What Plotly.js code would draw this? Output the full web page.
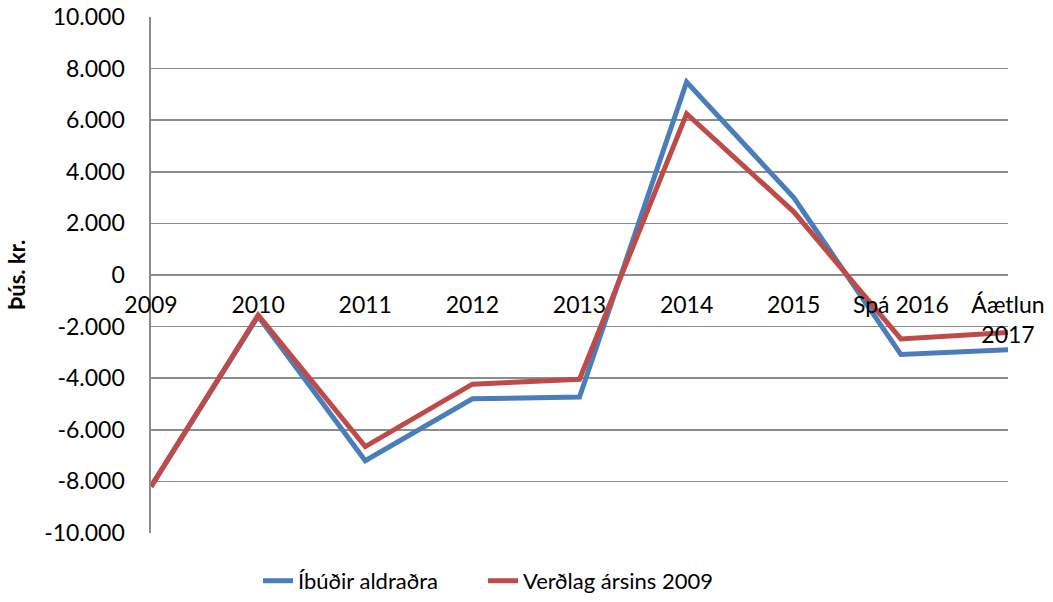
<!DOCTYPE html>
<html>
<head>
<meta charset="utf-8">
<script src="https://cdn.plot.ly/plotly-3.0.1.min.js"></script>
<style>html,body{margin:0;padding:0;background:#fff;}#chart{width:1053px;height:602px;}</style>
</head>
<body>
<div id="chart"></div>
<script>
const categories = ["2009", "2010", "2011", "2012", "2013", "2014", "2015", "Spá 2016", "Áætlun<br>2017"];
const ibudirAldradra = [-8200, -1600, -7200, -4800, -4730, 7480, 3000, -3080, -2900];
const verdlag2009 = [-8200, -1550, -6650, -4230, -4040, 6250, 2450, -2480, -2230];
const yTickVals = [-10000, -8000, -6000, -4000, -2000, 0, 2000, 4000, 6000, 8000, 10000];
const yTickText = ["-10.000", "-8.000", "-6.000", "-4.000", "-2.000", "0", "2.000", "4.000", "6.000", "8.000", "10.000"];

const FONT = "Lato, 'Open Sans', sans-serif";
const traces = [
  {x: categories, y: ibudirAldradra, name: "Íbúðir aldraðra", type: "scatter", mode: "lines",
   line: {color: "#4A7EBB", width: 5}, legend: "legend"},
  {x: categories, y: verdlag2009, name: "Verðlag ársins 2009", type: "scatter", mode: "lines",
   line: {color: "#BE4B48", width: 5}, legend: "legend2"}
];
const legendBase = {orientation: "h", xref: "container", yref: "container", xanchor: "left",
                    y: 0.035, yanchor: "middle", font: {family: FONT, size: 22, color: "#000"}};
const layout = {
  width: 1053, height: 602,
  margin: {l: 151, r: 45, t: 17, b: 69, pad: 0},
  paper_bgcolor: "#fff", plot_bgcolor: "#fff",
  font: {family: FONT, size: 23, color: "#000"},
  showlegend: true,
  legend: Object.assign({}, legendBase, {x: 258 / 1053}),
  legend2: Object.assign({}, legendBase, {x: 483 / 1053}),
  xaxis: {type: "category", range: [0, 8], anchor: "free", position: 0.5,
          showgrid: false, showline: false, zeroline: false, ticks: "", automargin: false,
          ticklabelstandoff: 14, tickfont: {family: FONT, size: 23, color: "#000"}},
  yaxis: {range: [-10000, 10000], tickvals: yTickVals, ticktext: yTickText,
          showgrid: true, gridcolor: "#8C8C8C", gridwidth: 1.6,
          showline: true, linecolor: "#8C8C8C", linewidth: 1.6,
          zeroline: true, zerolinecolor: "#8C8C8C", zerolinewidth: 1.6,
          ticks: "", automargin: "left", ticklabelstandoff: 20,
          tickfont: {family: FONT, size: 23, color: "#000"},
          title: {text: "Þús. kr.", standoff: 12, font: {family: FONT, size: 22, color: "#000", weight: "bold"}}}
};
Plotly.newPlot("chart", traces, layout, {displayModeBar: false, staticPlot: true});
</script>
</body>
</html>
